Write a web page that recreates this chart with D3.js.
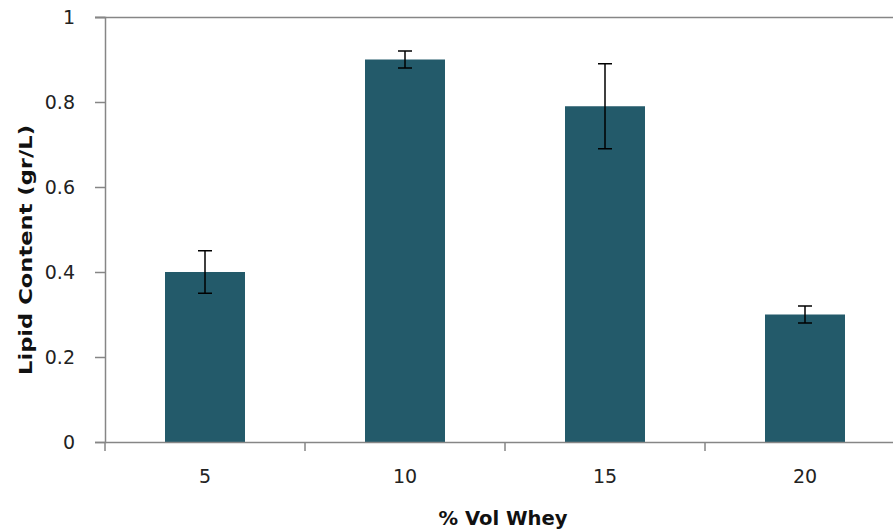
<!DOCTYPE html>
<html>
<head>
<meta charset="utf-8">
<script src="https://cdn.jsdelivr.net/npm/d3@7"></script>
<style>
  body { margin: 0; background: #fff; }
  text { font-family: "DejaVu Sans", Verdana, sans-serif; }
</style>
</head>
<body>
<div id="chart"></div>
<script>
const categories = ["5", "10", "15", "20"];
const values = [0.4, 0.9, 0.79, 0.3];
const errors = [0.05, 0.02, 0.1, 0.02];
const yTicks = [0, 0.2, 0.4, 0.6, 0.8, 1];

const W = 893, H = 532;
const margin = { top: 17, left: 105, bottom: 90 };
const plotW = 800, plotH = 425;
const axisColor = "#868686";
const barColor = "#235A6A";
const labelColor = "#222";

const svg = d3.select("#chart")
  .append("svg")
  .attr("width", W)
  .attr("height", H);

const chart = svg.append("g")
  .attr("transform", `translate(${margin.left}, ${margin.top})`);

const xScale = d3.scaleBand()
  .domain(categories)
  .range([0, plotW])
  .paddingInner(0.6)
  .paddingOuter(0.3);

const yScale = d3.scaleLinear()
  .domain([0, 1])
  .range([plotH, 0]);

// top border line of plot area
chart.append("line")
  .attr("x1", -10)
  .attr("x2", plotW)
  .attr("y1", yScale(1) + 0.5)
  .attr("y2", yScale(1) + 0.5)
  .attr("stroke", axisColor)
  .attr("stroke-width", 1.5);

// bars
chart.selectAll(".bar")
  .data(values)
  .enter()
  .append("rect")
  .attr("class", "bar")
  .attr("x", (d, i) => xScale(categories[i]))
  .attr("y", d => yScale(d))
  .attr("width", xScale.bandwidth())
  .attr("height", d => plotH - yScale(d))
  .attr("fill", barColor);

// error bars
const errG = chart.selectAll(".err")
  .data(values)
  .enter()
  .append("g")
  .attr("class", "err")
  .attr("stroke", "#000")
  .attr("stroke-width", 1.5);

const cx = i => xScale(categories[i]) + xScale.bandwidth() / 2;

errG.append("line")
  .attr("x1", (d, i) => cx(i))
  .attr("x2", (d, i) => cx(i))
  .attr("y1", (d, i) => yScale(d + errors[i]))
  .attr("y2", (d, i) => yScale(d - errors[i]));
errG.append("line")
  .attr("x1", (d, i) => cx(i) - 7)
  .attr("x2", (d, i) => cx(i) + 7)
  .attr("y1", (d, i) => yScale(d + errors[i]))
  .attr("y2", (d, i) => yScale(d + errors[i]));
errG.append("line")
  .attr("x1", (d, i) => cx(i) - 7)
  .attr("x2", (d, i) => cx(i) + 7)
  .attr("y1", (d, i) => yScale(d - errors[i]))
  .attr("y2", (d, i) => yScale(d - errors[i]));

// y axis
const yAxis = chart.append("g")
  .call(d3.axisLeft(yScale)
    .tickValues(yTicks)
    .tickFormat(d => d3.format("")(+d.toFixed(1)))
    .tickSize(10)
    .tickPadding(20));
yAxis.select(".domain").attr("stroke", axisColor).attr("stroke-width", 1.5);
yAxis.selectAll(".tick line").attr("stroke", axisColor).attr("stroke-width", 1.5);
yAxis.selectAll(".tick text")
  .attr("fill", labelColor)
  .style("font-size", "19px")
  .style("font-family", "'DejaVu Sans', sans-serif");

// x axis
const xAxis = chart.append("g")
  .attr("transform", `translate(0, ${plotH})`)
  .call(d3.axisBottom(xScale).tickSize(0).tickPadding(28));
xAxis.select(".domain").attr("stroke", axisColor).attr("stroke-width", 1.5);
xAxis.selectAll(".tick text")
  .attr("fill", labelColor)
  .style("font-size", "19px")
  .style("font-family", "'DejaVu Sans', sans-serif");

// category boundary ticks
const step = xScale.step();
chart.append("g")
  .selectAll("line")
  .data(d3.range(categories.length + 1))
  .enter()
  .append("line")
  .attr("x1", i => i * step)
  .attr("x2", i => i * step)
  .attr("y1", plotH)
  .attr("y2", plotH + 9)
  .attr("stroke", axisColor)
  .attr("stroke-width", 1.5);

// axis titles
svg.append("text")
  .attr("x", 503)
  .attr("y", 525)
  .attr("text-anchor", "middle")
  .attr("textLength", 129)
  .attr("lengthAdjust", "spacingAndGlyphs")
  .attr("fill", "#111")
  .style("font-size", "19px")
  .style("font-weight", "bold")
  .text("% Vol Whey");

svg.append("text")
  .attr("transform", "translate(32, 250) rotate(-90)")
  .attr("text-anchor", "middle")
  .attr("textLength", 250)
  .attr("lengthAdjust", "spacingAndGlyphs")
  .attr("fill", "#111")
  .style("font-size", "18px")
  .style("font-weight", "bold")
  .text("Lipid Content (gr/L)");
</script>
</body>
</html>
